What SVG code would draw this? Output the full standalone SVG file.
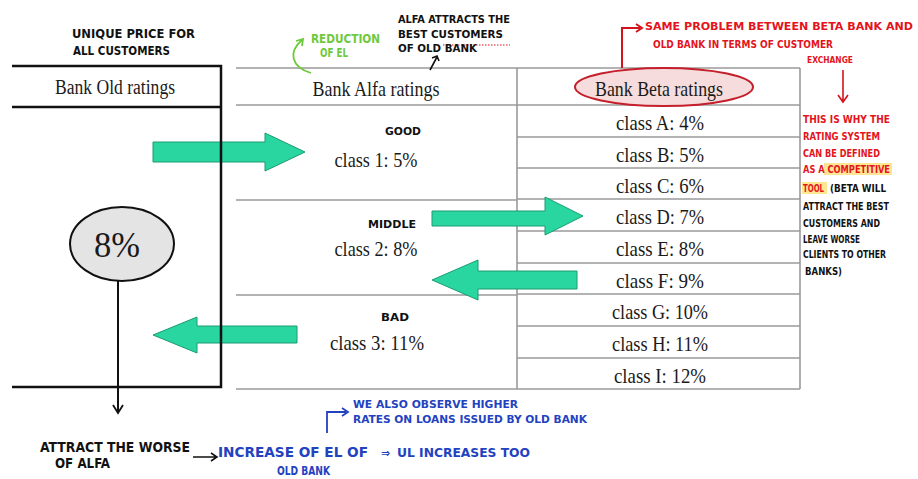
<svg xmlns="http://www.w3.org/2000/svg" width="918" height="479" viewBox="0 0 918 479">
<defs>
<style>
.ser{font-family:"Liberation Serif","Times New Roman",serif;fill:#1a1a1a;}
.hw{font-family:"Liberation Sans Narrow","DejaVu Sans Condensed","Liberation Sans",sans-serif;font-weight:bold;}
.blk{fill:#111;}
.red{fill:#e3141c;}
.blu{fill:#2342c0;}
.grn{fill:#6fc93c;}
.bl{stroke:#111;stroke-width:2.5;fill:none;}
.gl{stroke:#9a9a9a;stroke-width:1.6;fill:none;}
.garrow{fill:#2ad6a0;stroke:#1b9b72;stroke-width:1;}
</style>
</defs>
<rect width="918" height="479" fill="#fff"/>

<!-- Alfa / Beta tables -->
<g id="alfa-table">
<path class="gl" d="M236,68 H800 M236,105 H800 M236,200 H517 M236,295 H517 M236,389 H800"/>
<text class="ser" x="376" y="96" font-size="22" text-anchor="middle" textLength="127" lengthAdjust="spacingAndGlyphs">Bank Alfa ratings</text>
<text class="hw blk" x="403" y="135" font-size="11" text-anchor="middle" textLength="36" lengthAdjust="spacingAndGlyphs">GOOD</text>
<text class="ser" x="376" y="167" font-size="22" text-anchor="middle" textLength="83" lengthAdjust="spacingAndGlyphs">class 1: 5%</text>
<text class="hw blk" x="392" y="228" font-size="11" text-anchor="middle" textLength="48" lengthAdjust="spacingAndGlyphs">MIDDLE</text>
<text class="ser" x="376" y="256" font-size="22" text-anchor="middle" textLength="83" lengthAdjust="spacingAndGlyphs">class 2: 8%</text>
<text class="hw blk" x="395" y="321" font-size="11" text-anchor="middle" textLength="28" lengthAdjust="spacingAndGlyphs">BAD</text>
<text class="ser" x="377" y="350" font-size="22" text-anchor="middle" textLength="94" lengthAdjust="spacingAndGlyphs">class 3: 11%</text>
</g>

<g id="beta-table">
<path class="gl" d="M517,68 V389 M800,68 V389 M517,137 H800 M517,168 H800 M517,199 H800 M517,231 H800 M517,263 H800 M517,294 H800 M517,326 H800 M517,358 H800"/>
<ellipse cx="664" cy="87" rx="89" ry="19" fill="#f6dcdc" stroke="#c41f2a" stroke-width="2"/>
<text class="ser" x="659" y="96" font-size="22" text-anchor="middle" textLength="128" lengthAdjust="spacingAndGlyphs">Bank Beta ratings</text>
<g font-size="22" text-anchor="middle">
<text class="ser" x="660" y="130" textLength="88" lengthAdjust="spacingAndGlyphs">class A: 4%</text>
<text class="ser" x="660" y="162" textLength="88" lengthAdjust="spacingAndGlyphs">class B: 5%</text>
<text class="ser" x="660" y="193" textLength="88" lengthAdjust="spacingAndGlyphs">class C: 6%</text>
<text class="ser" x="660" y="224" textLength="88" lengthAdjust="spacingAndGlyphs">class D: 7%</text>
<text class="ser" x="660" y="256" textLength="88" lengthAdjust="spacingAndGlyphs">class E: 8%</text>
<text class="ser" x="660" y="288" textLength="88" lengthAdjust="spacingAndGlyphs">class F: 9%</text>
<text class="ser" x="660" y="319" textLength="96" lengthAdjust="spacingAndGlyphs">class G: 10%</text>
<text class="ser" x="660" y="351" textLength="96" lengthAdjust="spacingAndGlyphs">class H: 11%</text>
<text class="ser" x="660" y="383" textLength="92" lengthAdjust="spacingAndGlyphs">class I: 12%</text>
</g>
</g>

<!-- green arrows -->
<g id="connectors">
<polygon class="garrow" points="153,142 265,142 265,133 305,152 265,171 265,162 153,162"/>
<polygon class="garrow" points="432,211 545,211 545,197 583,216 545,235 545,226 432,226"/>
<polygon class="garrow" points="432,280 478,260 478,271 577,271 577,289 478,289 478,300"/>
<polygon class="garrow" points="153,335 197,317 197,326 297,326 297,343 197,343 197,353"/>
<!-- old bank vertical connector -->
<path d="M118,281 V412" stroke="#111" stroke-width="2" fill="none"/>
<path d="M113,405 L118,413 L123,405" stroke="#111" stroke-width="1.8" fill="none"/>
<!-- black arrow to old bank -->
<path d="M430,70 L437,57 M432,58 L437,56 L439,61" stroke="#111" stroke-width="1.6" fill="none"/>
<!-- green curved arrow -->
<path d="M311,73 C291,67 288,52 302,40 M296,41 L303,39 L302,46" stroke="#6fc93c" stroke-width="1.8" fill="none"/>
<!-- red dotted -->
<path d="M443,45 H510" stroke="#e3141c" stroke-width="1" stroke-dasharray="1.5,1.5"/>
<!-- red bracket -->
<path d="M622,68 V28 H640 M636,24 L642,28 L636,32" stroke="#d4141c" stroke-width="2" fill="none"/>
<!-- red down arrow -->
<path d="M843,70 V102 M838,95 L843,102 L848,95" stroke="#d4141c" stroke-width="1.6" fill="none"/>
<!-- black arrow to increase -->
<path d="M193,457 H216 M211,453 L217,457 L211,461" stroke="#111" stroke-width="1.6" fill="none"/>
<!-- blue bracket -->
<path d="M327,433 V412 H346 M342,408 L348,412 L342,416" stroke="#2342c0" stroke-width="1.8" fill="none"/>
</g>

<!-- Old bank -->
<g id="old-bank">
<path class="bl" d="M12,66 H221 V387 H12 M12,107 H221"/>
<text class="ser" x="115" y="94" font-size="20" text-anchor="middle" textLength="120" lengthAdjust="spacingAndGlyphs">Bank Old ratings</text>
<ellipse cx="122" cy="244" rx="52" ry="37" fill="#e4e4e4" stroke="#111" stroke-width="2"/>
<text class="ser" x="117" y="257" font-size="36" text-anchor="middle" textLength="46" lengthAdjust="spacingAndGlyphs">8%</text>
</g>

<!-- notes -->
<g id="note-unique" class="hw blk" font-size="13">
<text x="72" y="38" textLength="123" lengthAdjust="spacingAndGlyphs">UNIQUE PRICE FOR</text>
<text x="73" y="55" textLength="97" lengthAdjust="spacingAndGlyphs">ALL CUSTOMERS</text>
</g>
<g id="note-reduction" class="hw grn" font-size="12">
<text x="311" y="43" textLength="69" lengthAdjust="spacingAndGlyphs">REDUCTION</text>
<text x="320" y="57" textLength="28" lengthAdjust="spacingAndGlyphs">OF EL</text>
</g>
<g id="note-alfa" class="hw blk" font-size="11">
<text x="398" y="23" textLength="112" lengthAdjust="spacingAndGlyphs">ALFA ATTRACTS THE</text>
<text x="398" y="38" textLength="105" lengthAdjust="spacingAndGlyphs">BEST CUSTOMERS</text>
<text x="398" y="52" textLength="79" lengthAdjust="spacingAndGlyphs">OF OLD BANK</text>
</g>
<g id="note-same" class="hw red" font-size="11">
<text x="645" y="30" textLength="268" lengthAdjust="spacingAndGlyphs">SAME PROBLEM BETWEEN BETA BANK AND</text>
<text x="653" y="48" textLength="180" lengthAdjust="spacingAndGlyphs">OLD BANK IN TERMS OF CUSTOMER</text>
<text x="807" y="63" font-size="9" textLength="46" lengthAdjust="spacingAndGlyphs">EXCHANGE</text>
</g>
<g id="note-why" class="hw" font-size="10.5">
<rect x="824" y="163" width="68" height="12" fill="#ffd23a" opacity="0.55"/>
<rect x="802" y="182" width="25" height="12" fill="#ffd23a" opacity="0.55"/>
<text class="red" x="803" y="123" textLength="87" lengthAdjust="spacingAndGlyphs">THIS IS WHY THE</text>
<text class="red" x="803" y="140" textLength="77" lengthAdjust="spacingAndGlyphs">RATING SYSTEM</text>
<text class="red" x="803" y="157" textLength="77" lengthAdjust="spacingAndGlyphs">CAN BE DEFINED</text>
<text class="red" x="803" y="173" textLength="87" lengthAdjust="spacingAndGlyphs">AS A COMPETITIVE</text>
<text class="red" x="803" y="192" textLength="21" lengthAdjust="spacingAndGlyphs">TOOL</text>
<text class="blk" x="830" y="192" textLength="56" lengthAdjust="spacingAndGlyphs">(BETA WILL</text>
<text class="blk" x="803" y="210" textLength="86" lengthAdjust="spacingAndGlyphs">ATTRACT THE BEST</text>
<text class="blk" x="803" y="227" textLength="77" lengthAdjust="spacingAndGlyphs">CUSTOMERS AND</text>
<text class="blk" x="803" y="243" textLength="57" lengthAdjust="spacingAndGlyphs">LEAVE WORSE</text>
<text class="blk" x="803" y="258" textLength="83" lengthAdjust="spacingAndGlyphs">CLIENTS TO OTHER</text>
<text class="blk" x="805" y="275" textLength="37" lengthAdjust="spacingAndGlyphs">BANKS)</text>
</g>
<g id="note-attract" class="hw blk" font-size="14">
<text x="40" y="452" textLength="150" lengthAdjust="spacingAndGlyphs">ATTRACT THE WORSE</text>
<text x="55" y="468" textLength="55" lengthAdjust="spacingAndGlyphs">OF ALFA</text>
</g>
<g id="note-increase" class="hw blu" font-size="14">
<text x="218" y="457" textLength="150" lengthAdjust="spacingAndGlyphs">INCREASE OF EL OF</text>
<text x="277" y="475" font-size="13" textLength="53" lengthAdjust="spacingAndGlyphs">OLD BANK</text>
</g>
<g id="note-observe" class="hw blu" font-size="10">
<text x="353" y="408" textLength="165" lengthAdjust="spacingAndGlyphs">WE ALSO OBSERVE HIGHER</text>
<text x="353" y="423" textLength="234" lengthAdjust="spacingAndGlyphs">RATES ON LOANS ISSUED BY OLD BANK</text>
</g>
<g id="note-ul" class="hw blu" font-size="12">
<text x="381" y="457" font-size="12">⇒</text>
<text x="397" y="457" textLength="133" lengthAdjust="spacingAndGlyphs">UL INCREASES TOO</text>
</g>
</svg>
